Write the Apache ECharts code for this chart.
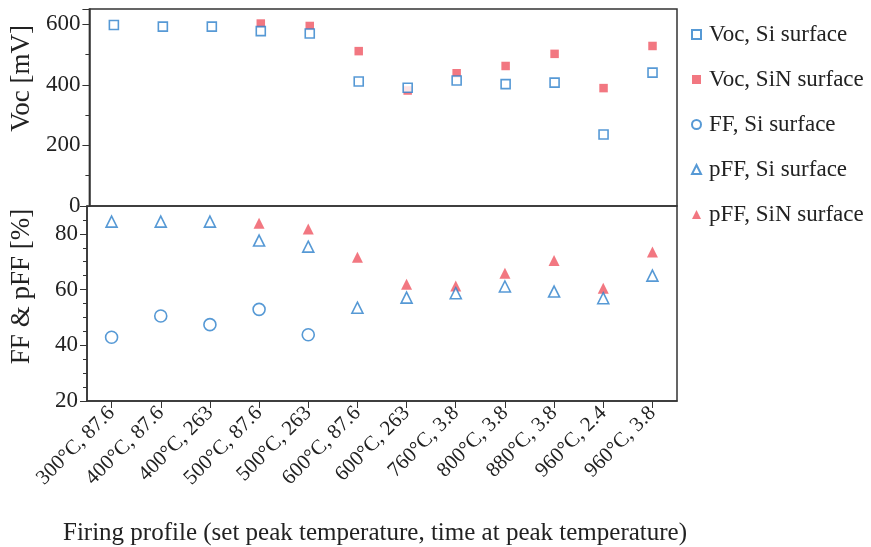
<!DOCTYPE html>
<html>
<head>
<meta charset="utf-8">
<script src="https://cdn.jsdelivr.net/npm/echarts@6/dist/echarts.min.js"></script>
<style>
  html, body { margin: 0; padding: 0; background: #fff; }
  #chart { width: 871px; height: 547px; }
</style>
</head>
<body>
<div id="chart"></div>
<script>
var profiles = ["300°C, 87.6", "400°C, 87.6", "400°C, 263", "500°C, 87.6", "500°C, 263", "600°C, 87.6",
    "600°C, 263", "760°C, 3.8", "800°C, 3.8", "880°C, 3.8", "960°C, 2.4", "960°C, 3.8"];

// Voc [mV]
var vocSi = [597, 592, 592, 577, 569, 411, 390, 414, 402, 407, 236, 440];
var vocSiN = [null, null, null, 602, 594, 511, 381, 438, 462, 502, 389, 528];

// FF & pFF [%]
var ffSi = [42.9, 50.5, 47.4, 52.9, 43.8, null, null, null, null, null, null, null];
var pffSi = [84.4, 84.4, 84.4, 77.6, 75.4, 53.5, 57.1, 58.7, 61.1, 59.3, 56.9, 65.0];
var pffSiN = [null, null, null, 83.8, 81.7, 71.6, 61.9, 61.3, 65.9, 70.4, 60.5, 73.5];

var blue = "#2c7fca";
var red = "#ef5561";
var font = "Liberation Serif";
var ink = "#222";

var chart = echarts.init(document.getElementById("chart"));

// shift is how far the rotated name sits above the middle of its panel
var yAxisBase = function (gridIndex, min, max, interval, minorSplit, name, shift) {
    return {
        type: "value",
        gridIndex: gridIndex,
        min: min,
        max: max,
        interval: interval,
        name: name,
        nameLocation: "middle",
        nameGap: 52,
        nameTextStyle: {fontFamily: font, fontSize: 27, color: ink, padding: [0, 0, 0, shift * 2]},
        axisLine: {show: true, lineStyle: {color: "#333", width: 1.5}},
        axisTick: {show: true, length: 7, lineStyle: {color: "#333"}},
        minorTick: {show: true, splitNumber: minorSplit, length: 4, lineStyle: {color: "#333"}},
        splitLine: {show: false},
        axisLabel: {fontFamily: font, fontSize: 23, color: ink, margin: 9, showMaxLabel: false}
    };
};

var option = {
    animation: false,
    backgroundColor: "#fff",
    legend: {
        orient: "vertical",
        left: 691,
        top: 23,
        padding: 0,
        itemGap: 22,
        itemWidth: 9,
        itemHeight: 9,
        textStyle: {fontFamily: font, fontSize: 23, color: ink, padding: [0, 0, 0, 3]},
        data: ["Voc, Si surface", "Voc, SiN surface", "FF, Si surface", "pFF, Si surface", "pFF, SiN surface"]
    },
    grid: [
        {left: 87, top: 9, width: 590, height: 197, show: true, borderColor: "#333", borderWidth: 1.5},
        {left: 87, top: 206, width: 590, height: 195, show: true, borderColor: "#333", borderWidth: 1.5}
    ],
    xAxis: [
        {type: "category", gridIndex: 0, data: profiles, show: false},
        {
            type: "category",
            gridIndex: 1,
            data: profiles,
            name: "Firing profile (set peak temperature, time at peak temperature)",
            nameLocation: "middle",
            nameGap: 120,
            nameTextStyle: {fontFamily: font, fontSize: 25, color: ink, padding: [0, 14, 0, 0]},
            axisLine: {show: true, lineStyle: {color: "#333", width: 1.5}},
            axisTick: {show: true, alignWithLabel: true, length: 7, lineStyle: {color: "#333"}},
            axisLabel: {fontFamily: font, fontSize: 21, color: ink, rotate: 45, margin: 9, interval: 0}
        }
    ],
    yAxis: [
        yAxisBase(0, 0, 650, 200, 2, "Voc [mV]", 29),
        yAxisBase(1, 20, 90, 20, 4, "FF & pFF [%]", 17)
    ],
    series: [
        {
            name: "Voc, Si surface", type: "scatter", xAxisIndex: 0, yAxisIndex: 0,
            data: vocSi, symbol: "rect", symbolSize: 9,
            itemStyle: {color: "#fff", borderColor: blue, borderWidth: 1.6}, z: 3
        },
        {
            name: "Voc, SiN surface", type: "scatter", xAxisIndex: 0, yAxisIndex: 0,
            data: vocSiN, symbol: "rect", symbolSize: 8.5,
            itemStyle: {color: red}, z: 2
        },
        {
            name: "FF, Si surface", type: "scatter", xAxisIndex: 1, yAxisIndex: 1,
            data: ffSi, symbol: "circle", symbolSize: 12,
            itemStyle: {color: "#fff", borderColor: blue, borderWidth: 1.6}, z: 3
        },
        {
            name: "pFF, Si surface", type: "scatter", xAxisIndex: 1, yAxisIndex: 1,
            data: pffSi, symbol: "triangle", symbolSize: 11,
            itemStyle: {color: "#fff", borderColor: blue, borderWidth: 1.6}, z: 3
        },
        {
            name: "pFF, SiN surface", type: "scatter", xAxisIndex: 1, yAxisIndex: 1,
            data: pffSiN, symbol: "triangle", symbolSize: 11,
            itemStyle: {color: red}, z: 2
        }
    ]
};

chart.setOption(option);
</script>
</body>
</html>
